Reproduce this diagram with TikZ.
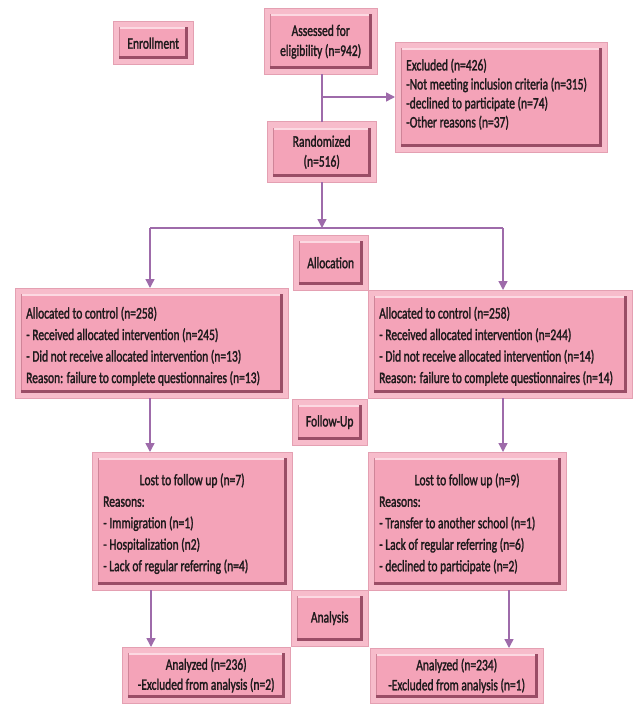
\documentclass[tikz,border=0pt]{standalone}
\usepackage{graphicx}
\usepackage{fontspec}
\setmainfont[FakeBold=2]{Carlito}
\usetikzlibrary{arrows.meta,calc,backgrounds}
\definecolor{pinkout}{HTML}{F7BCCB}
\definecolor{pinkedge}{HTML}{E4A0B2}
\definecolor{pinkin}{HTML}{F4A3B8}
\definecolor{pinkdark}{HTML}{9A4D66}
\definecolor{pinkmid}{HTML}{CF8498}
\definecolor{pinklight}{HTML}{FCD9E2}
\definecolor{conn}{HTML}{9E6BAA}
\definecolor{txt}{HTML}{1E1A1C}
\tikzset{
  bev/.style={inner xsep=11pt, inner ysep=0pt, text=txt, font=\fontsize{16}{21.5}\selectfont},
  conn/.style={draw=conn, line width=1.4pt},
  arr/.style={conn, -{Triangle[length=9pt,width=9pt]}}
}
\newcommand\bnode[7]{%
  \pgfmathsetmacro\bw{#4-#2}%
  \pgfmathsetmacro\bh{#5-#3}%
  \pgfmathsetmacro\pw{(#4-#2-22)/0.72}%
  \node[bev, anchor=north west, minimum width=\bw pt, minimum height=\bh pt] (#1) at (#2,#3) {\scalebox{0.72}[1]{\parbox{\pw pt}{#6#7}}};
  \begin{scope}[on background layer]
    \fill[pinkout, draw=pinkedge, line width=1pt] (#1.north west) rectangle (#1.south east);
    \fill[pinkin] ([shift={(5.5pt,-5.5pt)}]#1.north west) rectangle ([shift={(-5.5pt,5.5pt)}]#1.south east);
    \fill[pinklight] ([shift={(5.5pt,-5.5pt)}]#1.north west) rectangle ([shift={(-5.5pt,-7.5pt)}]#1.north east);
    \fill[pinkmid] ([shift={(5.5pt,-5.5pt)}]#1.north west) rectangle ([shift={(7pt,5.5pt)}]#1.south west);
    \fill[pinkdark] ([shift={(5.5pt,5.5pt)}]#1.south west) rectangle ([shift={(-5.5pt,8pt)}]#1.south east);
    \fill[pinkdark] ([shift={(-5.5pt,5.5pt)}]#1.south east) rectangle ([shift={(-8pt,-5.5pt)}]#1.north east);
  \end{scope}}
\newcommand\ctr{\centering}
\newcommand\lft{\raggedright}
\begin{document}
\begin{tikzpicture}[x=1pt,y=-1pt]
\begin{scope}[on background layer]
\fill[white] (0,0) rectangle (633,706);
\end{scope}
\useasboundingbox (0,0) rectangle (633,706);
\bnode{enroll}{113}{22}{193}{64}{\ctr}{Enrollment}
\bnode{assess}{264}{9}{377}{74}{\ctr}{\baselineskip=20pt Assessed for\\eligibility (n=942)}
\bnode{random}{267}{122}{376}{182}{\ctr}{\baselineskip=20pt Randomized\\(n=516)}
\bnode{excl}{395}{43}{607}{152}{\lft}{\baselineskip=19pt Excluded (n=426)\\-Not meeting inclusion criteria (n=315)\\-declined to participate (n=74)\\-Other reasons (n=37)\vspace{7pt}}
\bnode{alloc}{293}{235}{368}{290}{\ctr}{Allocation}
\bnode{ctrlL}{15}{288}{288}{398}{\lft}{\vspace{6pt}Allocated to control (n=258)\\- Received allocated intervention (n=245)\\- Did not receive allocated intervention (n=13)\\Reason: failure to complete questionnaires (n=13)}
\bnode{ctrlR}{368}{290}{632}{398}{\lft}{\vspace{4pt}Allocated to control (n=258)\\- Received allocated intervention (n=244)\\- Did not receive allocated intervention (n=14)\\Reason: failure to complete questionnaires (n=14)}
\bnode{follow}{292}{399}{367}{445}{\ctr}{Follow-Up}
\bnode{lostL}{92}{452}{292}{590}{\lft}{\vspace{5pt}\makebox[\hsize][c]{Lost to follow up (n=7)}\\Reasons:\\- Immigration (n=1)\\- Hospitalization (n2)\\- Lack of regular referring (n=4)}
\bnode{lostR}{368}{452}{566}{590}{\lft}{\vspace{5pt}\makebox[\hsize][c]{Lost to follow up (n=9)}\\Reasons:\\- Transfer to another school (n=1)\\- Lack of regular referring (n=6)\\- declined to participate (n=2)}
\bnode{analysis}{291}{590}{368}{646}{\ctr}{Analysis}
\bnode{anaL}{122}{647}{290}{703}{\ctr}{\baselineskip=20pt Analyzed (n=236)\\-Excluded from analysis (n=2)}
\bnode{anaR}{370}{648}{543}{703}{\ctr}{\baselineskip=20pt Analyzed (n=234)\\-Excluded from analysis (n=1)}
% connectors
\coordinate (split) at (322,97);
\coordinate (bar) at (322,228);
\coordinate (barL) at (150,228);
\coordinate (barR) at (503,228);
\draw[conn] (assess.south -| split) -- (random.north -| split);
\draw[arr] (split) -- (split -| excl.west);
\draw[arr] (random.south -| bar) -- (bar);
\draw[conn] (barL) -- (barR);
\draw[arr] (barL) -- (barL |- ctrlL.north);
\draw[arr] (barR) -- (barR |- ctrlR.north);
\draw[arr] (ctrlL.south -| barL) -- (lostL.north -| barL);
\draw[arr] (ctrlR.south -| barR) -- (lostR.north -| barR);
\coordinate (botL) at (151,0);
\coordinate (botR) at (509,0);
\draw[arr] (lostL.south -| botL) -- (anaL.north -| botL);
\draw[arr] (lostR.south -| botR) -- (anaR.north -| botR);
\end{tikzpicture}
\end{document}
